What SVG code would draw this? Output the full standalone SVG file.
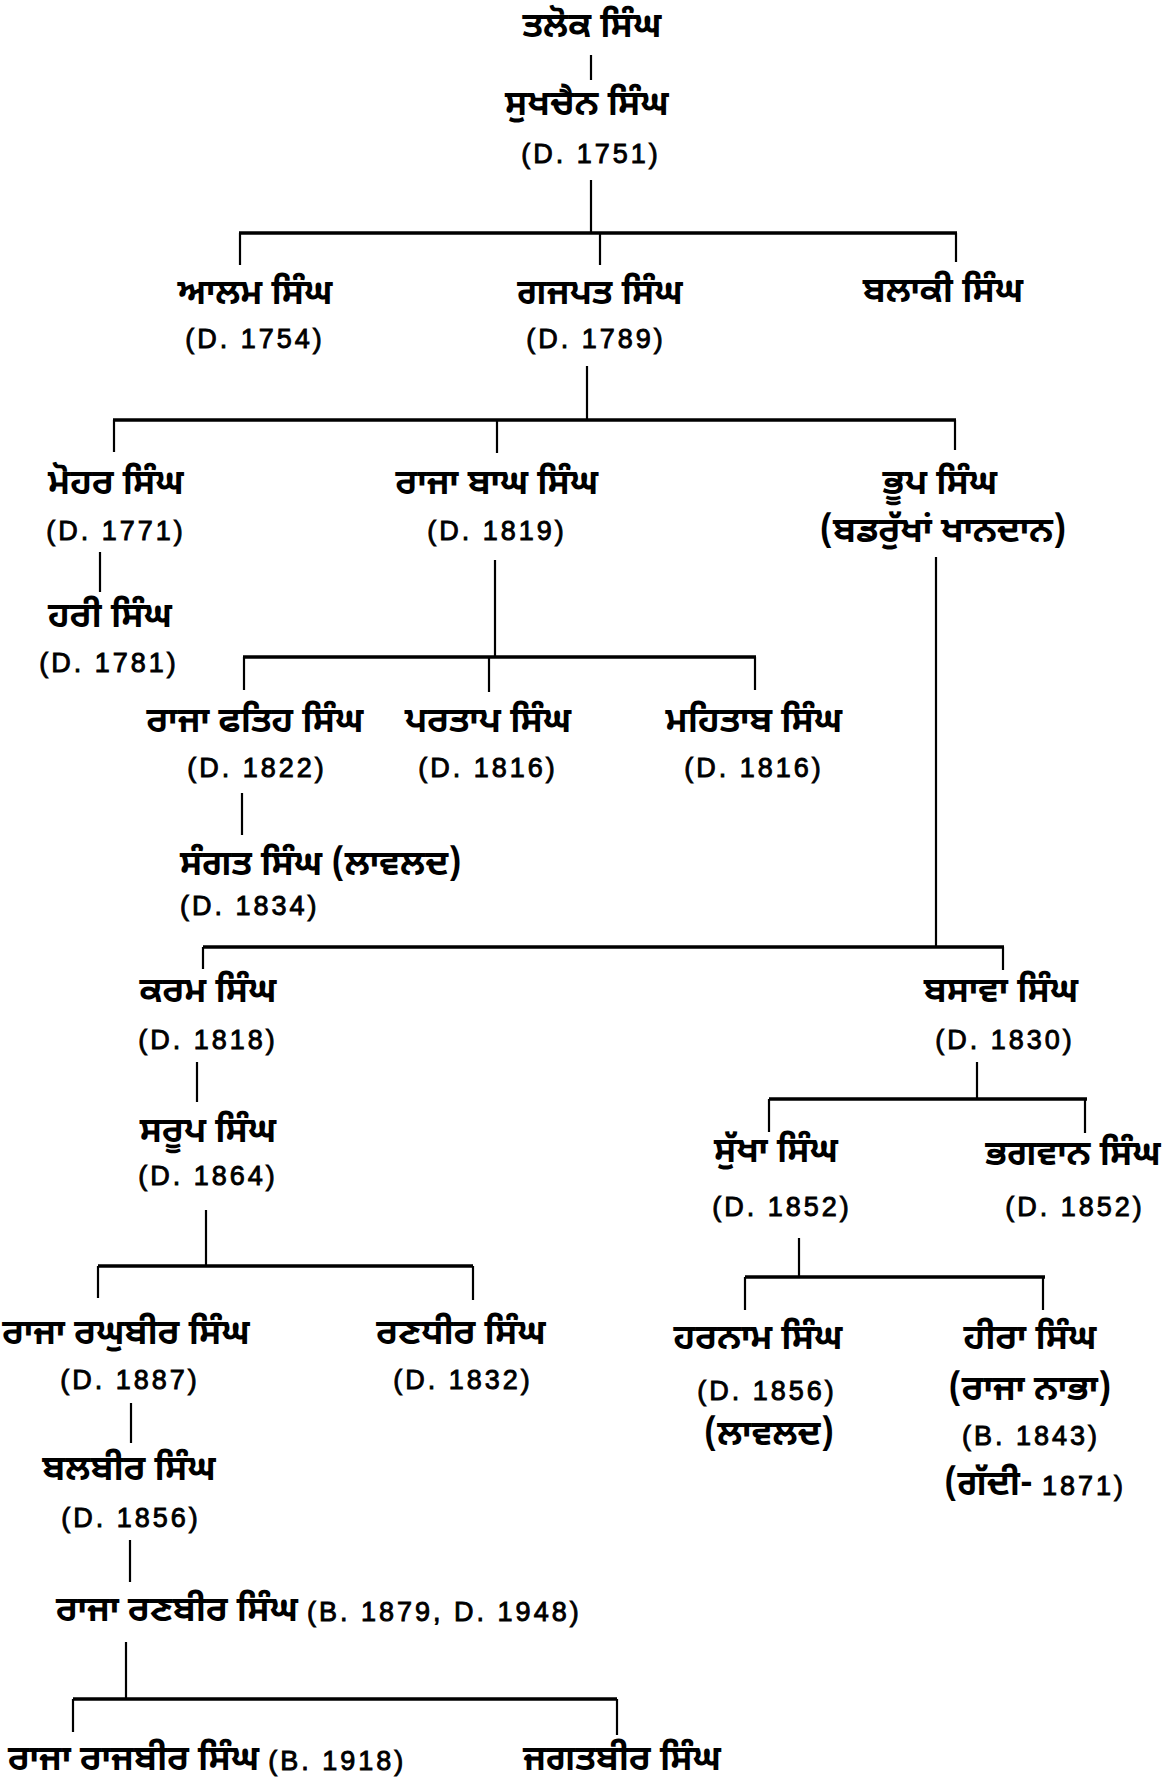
<svg xmlns="http://www.w3.org/2000/svg" width="1171" height="1784" viewBox="0 0 1171 1784">
<style>
.g{font-family:"Noto Sans Gurmukhi","Lohit Gurmukhi","Noto Sans",sans-serif;font-size:35px;font-weight:bold;fill:#000}
.d{font-family:"Liberation Sans",Arial,sans-serif;font-size:27px;font-weight:normal;letter-spacing:3px;fill:#000;stroke:#000;stroke-width:0.9}
.m{text-anchor:middle}
.v{stroke:#000;stroke-width:2.2;fill:none}
.h{stroke:#000;stroke-width:3.5;fill:none}
</style>
<rect width="1171" height="1784" fill="#fff"/>
<g id="connectors">
<line class="v" x1="591" y1="55" x2="591" y2="80"/>
<line class="v" x1="591" y1="180" x2="591" y2="233"/>
<line class="h" x1="239" y1="233" x2="957" y2="233"/>
<line class="v" x1="240" y1="233" x2="240" y2="265"/>
<line class="v" x1="600" y1="233" x2="600" y2="265"/>
<line class="v" x1="956" y1="233" x2="956" y2="262"/>
<line class="v" x1="587" y1="366" x2="587" y2="420"/>
<line class="h" x1="113" y1="420" x2="956" y2="420"/>
<line class="v" x1="114" y1="420" x2="114" y2="452"/>
<line class="v" x1="497" y1="420" x2="497" y2="453"/>
<line class="v" x1="955" y1="420" x2="955" y2="450"/>
<line class="v" x1="100" y1="552" x2="100" y2="592"/>
<line class="v" x1="495" y1="560" x2="495" y2="657"/>
<line class="h" x1="243" y1="657" x2="756" y2="657"/>
<line class="v" x1="244" y1="657" x2="244" y2="690"/>
<line class="v" x1="489" y1="657" x2="489" y2="692"/>
<line class="v" x1="755" y1="657" x2="755" y2="690"/>
<line class="v" x1="936" y1="557" x2="936" y2="947"/>
<line class="v" x1="242" y1="793" x2="242" y2="835"/>
<line class="h" x1="203" y1="947" x2="1004" y2="947"/>
<line class="v" x1="203" y1="947" x2="203" y2="969"/>
<line class="v" x1="1003" y1="947" x2="1003" y2="970"/>
<line class="v" x1="197" y1="1062" x2="197" y2="1102"/>
<line class="v" x1="977" y1="1062" x2="977" y2="1099"/>
<line class="h" x1="769" y1="1099" x2="1087" y2="1099"/>
<line class="v" x1="769" y1="1099" x2="769" y2="1132"/>
<line class="v" x1="1085" y1="1099" x2="1085" y2="1133"/>
<line class="v" x1="206" y1="1210" x2="206" y2="1266"/>
<line class="h" x1="98" y1="1266" x2="473" y2="1266"/>
<line class="v" x1="98" y1="1266" x2="98" y2="1298"/>
<line class="v" x1="473" y1="1266" x2="473" y2="1300"/>
<line class="v" x1="799" y1="1238" x2="799" y2="1277"/>
<line class="h" x1="745" y1="1277" x2="1045" y2="1277"/>
<line class="v" x1="745" y1="1277" x2="745" y2="1310"/>
<line class="v" x1="1043" y1="1277" x2="1043" y2="1310"/>
<line class="v" x1="131" y1="1403" x2="131" y2="1443"/>
<line class="v" x1="130" y1="1540" x2="130" y2="1582"/>
<line class="v" x1="126" y1="1642" x2="126" y2="1699"/>
<line class="h" x1="73" y1="1699" x2="617" y2="1699"/>
<line class="v" x1="73" y1="1699" x2="73" y2="1732"/>
<line class="v" x1="617" y1="1699" x2="617" y2="1735"/>
</g>
<g id="n-talok"><text class="g m" x="592" y="37">ਤਲੋਕ ਸਿੰਘ</text></g>
<g id="n-sukhchain"><text class="g m" x="587" y="115">ਸੁਖਚੈਨ ਸਿੰਘ</text><text class="d m" x="591" y="163">(D. 1751)</text></g>
<g id="n-alam"><text class="g m" x="255" y="304">ਆਲਮ ਸਿੰਘ</text><text class="d m" x="255" y="348">(D. 1754)</text></g>
<g id="n-gajpat"><text class="g m" x="600" y="304">ਗਜਪਤ ਸਿੰਘ</text><text class="d m" x="596" y="348">(D. 1789)</text></g>
<g id="n-balaki"><text class="g m" x="943" y="302">ਬਲਾਕੀ ਸਿੰਘ</text></g>
<g id="n-mohar"><text class="g m" x="116" y="494">ਮੋਹਰ ਸਿੰਘ</text><text class="d m" x="116" y="540">(D. 1771)</text></g>
<g id="n-bagh"><text class="g m" x="497" y="494">ਰਾਜਾ ਬਾਘ ਸਿੰਘ</text><text class="d m" x="497" y="540">(D. 1819)</text></g>
<g id="n-bhup"><text class="g m" x="940" y="494">ਭੂਪ ਸਿੰਘ</text><text class="g m" x="943" y="542">(ਬਡਰੁੱਖਾਂ ਖਾਨਦਾਨ)</text></g>
<g id="n-hari"><text class="g m" x="110" y="627">ਹਰੀ ਸਿੰਘ</text><text class="d m" x="109" y="672">(D. 1781)</text></g>
<g id="n-fateh"><text class="g m" x="255" y="732">ਰਾਜਾ ਫਤਿਹ ਸਿੰਘ</text><text class="d m" x="257" y="777">(D. 1822)</text></g>
<g id="n-partap"><text class="g m" x="488" y="732">ਪਰਤਾਪ ਸਿੰਘ</text><text class="d m" x="488" y="777">(D. 1816)</text></g>
<g id="n-mahitab"><text class="g m" x="754" y="732">ਮਹਿਤਾਬ ਸਿੰਘ</text><text class="d m" x="754" y="777">(D. 1816)</text></g>
<g id="n-sangat"><text class="g" x="180" y="875">ਸੰਗਤ ਸਿੰਘ (ਲਾਵਲਦ)</text><text class="d" x="180" y="915">(D. 1834)</text></g>
<g id="n-karam"><text class="g m" x="208" y="1002">ਕਰਮ ਸਿੰਘ</text><text class="d m" x="208" y="1049">(D. 1818)</text></g>
<g id="n-basawa"><text class="g m" x="1001" y="1002">ਬਸਾਵਾ ਸਿੰਘ</text><text class="d m" x="1005" y="1049">(D. 1830)</text></g>
<g id="n-sarup"><text class="g m" x="208" y="1142">ਸਰੂਪ ਸਿੰਘ</text><text class="d m" x="208" y="1185">(D. 1864)</text></g>
<g id="n-sukha"><text class="g m" x="776" y="1162">ਸੁੱਖਾ ਸਿੰਘ</text><text class="d m" x="782" y="1216">(D. 1852)</text></g>
<g id="n-bhagwan"><text class="g m" x="1073" y="1165">ਭਗਵਾਨ ਸਿੰਘ</text><text class="d m" x="1075" y="1216">(D. 1852)</text></g>
<g id="n-raghbir"><text class="g m" x="126" y="1344">ਰਾਜਾ ਰਘੁਬੀਰ ਸਿੰਘ</text><text class="d m" x="130" y="1389">(D. 1887)</text></g>
<g id="n-randhir"><text class="g m" x="461" y="1344">ਰਣਧੀਰ ਸਿੰਘ</text><text class="d m" x="463" y="1389">(D. 1832)</text></g>
<g id="n-harnam"><text class="g m" x="758" y="1349">ਹਰਨਾਮ ਸਿੰਘ</text><text class="d m" x="767" y="1400">(D. 1856)</text><text class="g m" x="769" y="1445">(ਲਾਵਲਦ)</text></g>
<g id="n-hira"><text class="g m" x="1030" y="1349">ਹੀਰਾ ਸਿੰਘ</text><text class="g m" x="1030" y="1400">(ਰਾਜਾ ਨਾਭਾ)</text><text class="d m" x="1031" y="1445">(B. 1843)</text><text class="g m" x="1035" y="1495">(ਗੱਦੀ- <tspan class="d">1871)</tspan></text></g>
<g id="n-balbir"><text class="g m" x="129" y="1480">ਬਲਬੀਰ ਸਿੰਘ</text><text class="d m" x="131" y="1527">(D. 1856)</text></g>
<g id="n-ranbir"><text class="g" x="56" y="1621">ਰਾਜਾ ਰਣਬੀਰ ਸਿੰਘ <tspan class="d">(B. 1879, D. 1948)</tspan></text></g>
<g id="n-rajbir"><text class="g" x="8" y="1770">ਰਾਜਾ ਰਾਜਬੀਰ ਸਿੰਘ <tspan class="d">(B. 1918)</tspan></text></g>
<g id="n-jagatbir"><text class="g m" x="622" y="1770">ਜਗਤਬੀਰ ਸਿੰਘ</text></g>
</svg>
